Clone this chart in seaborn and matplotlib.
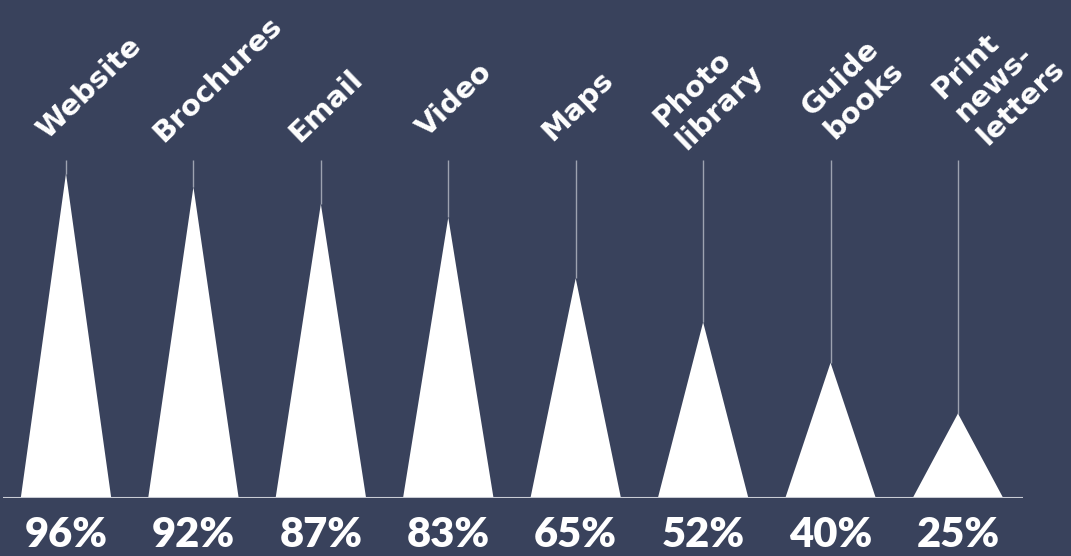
import matplotlib
matplotlib.use("Agg")
import matplotlib.pyplot as plt
import seaborn as sns

# data
channels = ["Website", "Brochures", "Email", "Video", "Maps",
            "Photo\nlibrary", "Guide\nbooks", "Print\nnews-\nletters"]
shares = [96, 92, 87, 83, 65, 52, 40, 25]

# layout: first-line nudge (pixels) of each rotated label from the top of its guide line
label_nudge = [(-19, 20), (-30, 17), (-21, 17), (-21, 22), (-23, 18),
               (-40, 32), (-19, 43), (-16, 60)]

bg = "#39425c"
sns.set_style("dark", {"axes.facecolor": bg, "figure.facecolor": bg})

fig = plt.figure(figsize=(10.71, 5.56), dpi=100)
fig.patch.set_facecolor(bg)
ax = fig.add_axes([0, 58 / 556, 1, 338 / 556])
ax.set_facecolor(bg)
ax.set_xlim(-0.518, 7.887)
ax.set_ylim(0, 100)
ax.axis("off")

half = 0.355
xs = list(range(len(shares)))

# thin guide lines from the tip up to 100%
ax.vlines(xs, shares, 100, color="#9da2b0", lw=1, zorder=2)

# triangles
for x, v in zip(xs, shares):
    ax.fill([x - half, x, x + half], [0, v, 0], color="white", lw=0, zorder=3)

# baseline
ax.plot([-0.494, 7.51], [0, 0], color="#c9ccd4", lw=1.5, zorder=4,
        solid_capstyle="butt")

# percentages under the baseline
for x, v in zip(xs, shares):
    ax.annotate(f"{v}%", xy=(x, 0), xytext=(0, -37), textcoords="offset pixels",
                ha="center", va="center", color="white", fontsize=30,
                fontweight="heavy", family=["Lato", "DejaVu Sans"],
                annotation_clip=False)

# rotated channel names, one text per line
for x, name, (dx, dy) in zip(xs, channels, label_nudge):
    for k, line in enumerate(name.split("\n")):
        ax.annotate(line, xy=(x, 100), xytext=(dx + 23 * k, dy - 23 * k),
                    textcoords="offset pixels", ha="left", va="baseline",
                    rotation=44, rotation_mode="anchor", color="white",
                    fontsize=21, fontweight="bold", family=["DejaVu Sans"],
                    annotation_clip=False)

sns.despine(left=True, bottom=True)
fig.savefig("out.png", dpi=100, facecolor=bg)
